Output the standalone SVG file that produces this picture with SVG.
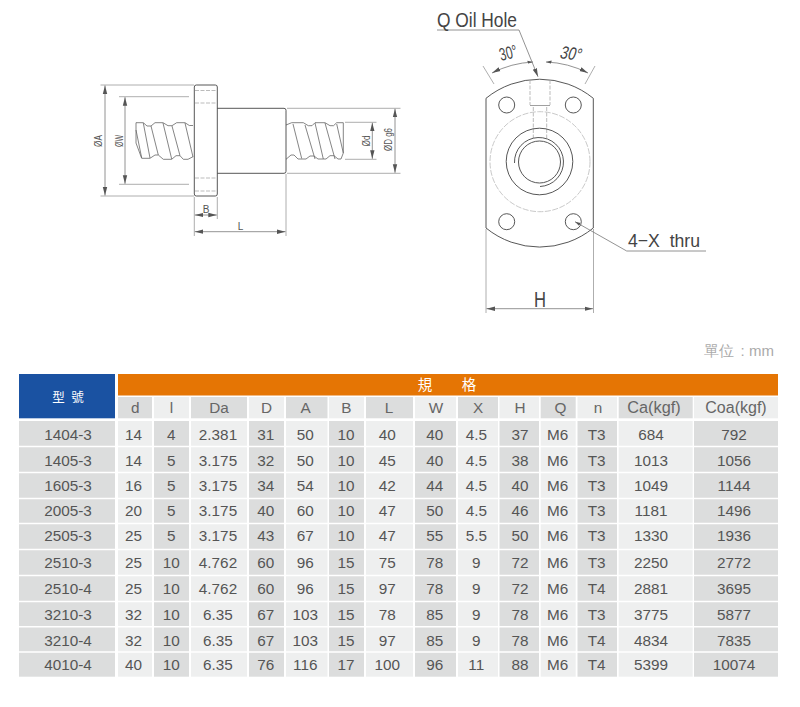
<svg xmlns="http://www.w3.org/2000/svg" width="800" height="707" viewBox="0 0 800 707">
<defs>
<marker id="a" markerWidth="9" markerHeight="6" refX="8.5" refY="3" orient="auto-start-reverse" markerUnits="userSpaceOnUse"><path d="M0 .8L8.5 3L0 5.2z" fill="#555"/></marker>
<marker id="s" markerWidth="6" markerHeight="5" refX="5.5" refY="2.5" orient="auto-start-reverse" markerUnits="userSpaceOnUse"><path d="M0 .9L5.5 2.5L0 4.1z" fill="#555"/></marker>
</defs>
<style>
text{font-family:"Liberation Sans",Arial,sans-serif}
.o{fill:none;stroke:#444;stroke-width:.9}
.t{fill:none;stroke:#666;stroke-width:.8}
.ext{fill:none;stroke:#999;stroke-width:.8}
.dim{fill:none;stroke:#777;stroke-width:.8}
.hid{fill:none;stroke:#aaa;stroke-width:.8;stroke-dasharray:4 1.5}
.dl{font-size:10px;fill:#555;text-anchor:middle}
.big{fill:#444;stroke:none}
.dk{fill:#dcdddd}.lt{fill:#eeefef}
#table text{font-size:15.3px;fill:#555;text-anchor:middle}
#table .hd text{fill:#666}
#table .w{fill:#fff;font-family:"Liberation Sans","Noto Sans CJK TC",sans-serif}
</style>

<g id="side-view">
<g id="screw-left">
<path class="t" d="M136 122.7H143.3L147 126H151L155 122.7H163L168 125.7H172L176.7 122.7H185L189.3 125.5H193M136 122.7V143L141.7 158.3H150L155 155H158.3L163.3 159.3H171.7L176 155.7H180L183.3 159.3H188L193 156.7"/>
<path class="t" d="M136 130L141.7 158M143.3 123L150 158M151 126L158.3 155M163 123L171.7 159M172 126L180 155.7M185 123L193 157"/>
</g>
<g id="screw-right">
<path class="t" d="M286 125L291.7 122.7H303.3L308.3 125.7H312L315 122.7H325L330 125.7H333.5L336.7 122.7H343.3V153L341 159H338L334 155.7H330L326 159H318L314 156H310L306 159H298L294 155H291L286 159.3"/>
<path class="t" d="M293 124L301.7 158.5M305 125L315 159M315 123L323.3 159M325 123L335 159M336.7 124L343.3 153"/>
</g>
<g id="flange">
<rect class="o" x="194.3" y="85" width="23" height="111" rx="2"/>
<path class="hid" d="M195 90.5H217M195 103H217M195 178H217M195 191H217"/>
</g>
<g id="nut-body">
<path class="o" d="M217.3 108.3H284Q286 108.3 286 110.3V171.3Q286 173.3 284 173.3H217.3"/>
</g>
<g id="side-dims">
<path class="ext" d="M100.5 85H194M100.5 196H194M119 96.7H189M119 184.3H189M287 108.3H400.5M287 173.3H400.5M345 122.3H376.5M345 159.3H376.5M194.3 197V236M217.3 197V219M286 174V236"/>
<path class="dim" marker-start="url(#a)" marker-end="url(#a)" d="M105 85.5V195.5"/>
<path class="dim" marker-start="url(#a)" marker-end="url(#a)" d="M125 97.2V183.8"/>
<path class="dim" marker-start="url(#a)" marker-end="url(#a)" d="M395 108.8V172.8"/>
<path class="dim" marker-start="url(#a)" marker-end="url(#a)" d="M372.3 122.8V158.8"/>
<path class="dim" marker-start="url(#a)" marker-end="url(#a)" d="M194.8 215H216.8"/>
<path class="dim" marker-start="url(#a)" marker-end="url(#a)" d="M194.8 231.7H285.5"/>
<text class="dl" transform="translate(101.5,141) rotate(-90)" textLength="12" lengthAdjust="spacingAndGlyphs">ØA</text>
<text class="dl" transform="translate(123,141) rotate(-90)" textLength="12" lengthAdjust="spacingAndGlyphs">ØW</text>
<text class="dl" transform="translate(369.5,141) rotate(-90)" textLength="11" lengthAdjust="spacingAndGlyphs">Ød</text>
<text class="dl" transform="translate(391.5,139.5) rotate(-90)" textLength="23" lengthAdjust="spacingAndGlyphs">ØD g6</text>
<text class="dl" x="206" y="212.5">B</text>
<text class="dl" x="240.5" y="229.5">L</text>
</g>
</g>

<g id="front-view">
<g id="flange-outline">
<path class="o" d="M486 98.3A85 85 0 0 1 593.3 98.3V228A85 85 0 0 1 486 228Z"/>
<circle cx="540" cy="161.7" r="50" fill="none" stroke="#bbb" stroke-width=".8" stroke-dasharray="6 1.5"/>
</g>
<g id="holes">
<circle class="o" cx="506.7" cy="105" r="8"/>
<circle class="o" cx="573.3" cy="105" r="8"/>
<circle class="o" cx="506.7" cy="221.7" r="8"/>
<circle class="o" cx="573.3" cy="221.7" r="8"/>
</g>
<g id="oil-hole">
<path class="hid" d="M530 80V105M550 80V105M533.3 107V138M546.7 107V138"/>
<path fill="none" stroke="#888" stroke-width=".8" d="M530 105.5H550"/>
</g>
<g id="bore">
<circle class="o" cx="539.5" cy="161.5" r="33.3"/>
<circle class="o" cx="539.5" cy="162" r="21"/>
<path class="o" d="M514.5 163A24.5 24.5 0 1 1 540 186.5"/>
</g>
<g id="front-dims">
<path class="ext" d="M483 66L494 84M595 66L585 84M486 229V313M593.5 229V313"/>
<path class="dim" marker-start="url(#a)" marker-end="url(#s)" d="M492 73A100 100 0 0 1 533 62"/>
<path class="dim" marker-start="url(#s)" marker-end="url(#a)" d="M546 62A100 100 0 0 1 588 73"/>
<path class="dim" marker-start="url(#a)" marker-end="url(#a)" d="M486.5 308.7H593"/>
<path class="dim" marker-end="url(#a)" d="M437 30H519L538 76.7"/>
<path class="dim" marker-end="url(#s)" d="M706 251H626.7L575 221.7"/>
<text class="big" x="437" y="27" font-size="21" textLength="80" lengthAdjust="spacingAndGlyphs">Q Oil Hole</text>
<text class="big" transform="translate(501,61) rotate(-14)" font-size="18" textLength="18" lengthAdjust="spacingAndGlyphs">30°</text>
<text class="big" transform="translate(559,58) rotate(8) skewX(-10)" font-size="18" textLength="21" lengthAdjust="spacingAndGlyphs">30°</text>
<text class="big" x="628" y="247" font-size="19" xml:space="preserve" textLength="72" lengthAdjust="spacingAndGlyphs">4−X  thru</text>
<text class="big" x="540" y="306.5" font-size="22" text-anchor="middle" textLength="12" lengthAdjust="spacingAndGlyphs">H</text>
</g>
</g>

<text id="unit" x="704" y="356" font-size="15" fill="#aaa" font-family="'Liberation Sans','Noto Sans CJK TC',sans-serif">單位<tspan x="740.5">:</tspan><tspan x="749">mm</tspan></text>

<g id="table">
<rect x="19" y="374" width="96" height="44.3" fill="#1a52a2"/>
<rect x="118" y="374" width="660" height="21.5" fill="#e57504"/>
<text class="w" x="58.5" y="401.5" style="font-size:12.5px">型</text><text class="w" x="77.5" y="401.5" style="font-size:12.5px">號</text>
<text class="w" x="425" y="390" style="font-size:14.5px">規</text><text class="w" x="469" y="390" style="font-size:14.5px">格</text>
<g class="hd">
<rect class="dk" x="118" y="397" width="34" height="21.3"/><rect class="lt" x="154" y="397" width="35" height="21.3"/><rect class="dk" x="191" y="397" width="56" height="21.3"/><rect class="lt" x="249" y="397" width="35" height="21.3"/><rect class="dk" x="286" y="397" width="41.5" height="21.3"/><rect class="lt" x="329" y="397" width="35" height="21.3"/><rect class="dk" x="366" y="397" width="47" height="21.3"/><rect class="lt" x="415" y="397" width="41" height="21.3"/><rect class="dk" x="458" y="397" width="40" height="21.3"/><rect class="lt" x="499.5" y="397" width="39.5" height="21.3"/><rect class="dk" x="540.7" y="397" width="35" height="21.3"/><rect class="lt" x="577.5" y="397" width="39.5" height="21.3"/><rect class="dk" x="618.7" y="397" width="74" height="21.3"/><rect class="lt" x="694" y="397" width="84" height="21.3"/>
<g transform="translate(0,413)"><text x="135.3">d</text><text x="171.5">l</text><text x="219">Da</text><text x="266.5">D</text><text x="305.7">A</text><text x="346.3">B</text><text x="389">L</text><text x="436">W</text><text x="478">X</text><text x="520">H</text><text x="560.5">Q</text><text x="598">n</text><text x="654" style="font-size:16.3px">Ca(kgf)</text><text x="736" style="font-size:16px">Coa(kgf)</text></g>
</g>
<g id="columns">
<rect class="dk" x="19" y="421" width="96" height="255.7"/><rect class="lt" x="118" y="421" width="34" height="255.7"/><rect class="dk" x="154" y="421" width="35" height="255.7"/><rect class="lt" x="191" y="421" width="56" height="255.7"/><rect class="dk" x="249" y="421" width="35" height="255.7"/><rect class="lt" x="286" y="421" width="41.5" height="255.7"/><rect class="dk" x="329" y="421" width="35" height="255.7"/><rect class="lt" x="366" y="421" width="47" height="255.7"/><rect class="dk" x="415" y="421" width="41" height="255.7"/><rect class="lt" x="458" y="421" width="40" height="255.7"/><rect class="dk" x="499.5" y="421" width="39.5" height="255.7"/><rect class="lt" x="540.7" y="421" width="35" height="255.7"/><rect class="dk" x="577.5" y="421" width="39.5" height="255.7"/><rect class="lt" x="618.7" y="421" width="74" height="255.7"/><rect class="dk" x="694" y="421" width="84" height="255.7"/>
<path stroke="#fff" stroke-width="1.5" d="M19 446.5H778M19 472.5H778M19 498.5H778M19 523.5H778M19 549.5H778M19 575.5H778M19 601.5H778M19 626.8H778M19 652H778"/>
</g>
<g id="rows">
<g transform="translate(0,439.7)"><text x="68">1404-3</text><text x="133.5">14</text><text x="171.3">4</text><text x="218">2.381</text><text x="265.7">31</text><text x="305.3">50</text><text x="346">10</text><text x="387.3">40</text><text x="434.7">40</text><text x="476.3">4.5</text><text x="520">37</text><text x="557.7">M6</text><text x="596.7">T3</text><text x="651">684</text><text x="734">792</text></g>
<g transform="translate(0,465.7)"><text x="68">1405-3</text><text x="133.5">14</text><text x="171.3">5</text><text x="218">3.175</text><text x="265.7">32</text><text x="305.3">50</text><text x="346">10</text><text x="387.3">45</text><text x="434.7">40</text><text x="476.3">4.5</text><text x="520">38</text><text x="557.7">M6</text><text x="596.7">T3</text><text x="651">1013</text><text x="734">1056</text></g>
<g transform="translate(0,491.4)"><text x="68">1605-3</text><text x="133.5">16</text><text x="171.3">5</text><text x="218">3.175</text><text x="265.7">34</text><text x="305.3">54</text><text x="346">10</text><text x="387.3">42</text><text x="434.7">44</text><text x="476.3">4.5</text><text x="520">40</text><text x="557.7">M6</text><text x="596.7">T3</text><text x="651">1049</text><text x="734">1144</text></g>
<g transform="translate(0,516.4)"><text x="68">2005-3</text><text x="133.5">20</text><text x="171.3">5</text><text x="218">3.175</text><text x="265.7">40</text><text x="305.3">60</text><text x="346">10</text><text x="387.3">47</text><text x="434.7">50</text><text x="476.3">4.5</text><text x="520">46</text><text x="557.7">M6</text><text x="596.7">T3</text><text x="651">1181</text><text x="734">1496</text></g>
<g transform="translate(0,541.4)"><text x="68">2505-3</text><text x="133.5">25</text><text x="171.3">5</text><text x="218">3.175</text><text x="265.7">43</text><text x="305.3">67</text><text x="346">10</text><text x="387.3">47</text><text x="434.7">55</text><text x="476.3">5.5</text><text x="520">50</text><text x="557.7">M6</text><text x="596.7">T3</text><text x="651">1330</text><text x="734">1936</text></g>
<g transform="translate(0,568.4)"><text x="68">2510-3</text><text x="133.5">25</text><text x="171.3">10</text><text x="218">4.762</text><text x="265.7">60</text><text x="305.3">96</text><text x="346">15</text><text x="387.3">75</text><text x="434.7">78</text><text x="476.3">9</text><text x="520">72</text><text x="557.7">M6</text><text x="596.7">T3</text><text x="651">2250</text><text x="734">2772</text></g>
<g transform="translate(0,594.4)"><text x="68">2510-4</text><text x="133.5">25</text><text x="171.3">10</text><text x="218">4.762</text><text x="265.7">60</text><text x="305.3">96</text><text x="346">15</text><text x="387.3">97</text><text x="434.7">78</text><text x="476.3">9</text><text x="520">72</text><text x="557.7">M6</text><text x="596.7">T4</text><text x="651">2881</text><text x="734">3695</text></g>
<g transform="translate(0,620)"><text x="68">3210-3</text><text x="133.5">32</text><text x="171.3">10</text><text x="218">6.35</text><text x="265.7">67</text><text x="305.3">103</text><text x="346">15</text><text x="387.3">78</text><text x="434.7">85</text><text x="476.3">9</text><text x="520">78</text><text x="557.7">M6</text><text x="596.7">T3</text><text x="651">3775</text><text x="734">5877</text></g>
<g transform="translate(0,646)"><text x="68">3210-4</text><text x="133.5">32</text><text x="171.3">10</text><text x="218">6.35</text><text x="265.7">67</text><text x="305.3">103</text><text x="346">15</text><text x="387.3">97</text><text x="434.7">85</text><text x="476.3">9</text><text x="520">78</text><text x="557.7">M6</text><text x="596.7">T4</text><text x="651">4834</text><text x="734">7835</text></g>
<g transform="translate(0,670.4)"><text x="68">4010-4</text><text x="133.5">40</text><text x="171.3">10</text><text x="218">6.35</text><text x="265.7">76</text><text x="305.3">116</text><text x="346">17</text><text x="387.3">100</text><text x="434.7">96</text><text x="476.3">11</text><text x="520">88</text><text x="557.7">M6</text><text x="596.7">T4</text><text x="651">5399</text><text x="734">10074</text></g>
</g>
</g>
</svg>
